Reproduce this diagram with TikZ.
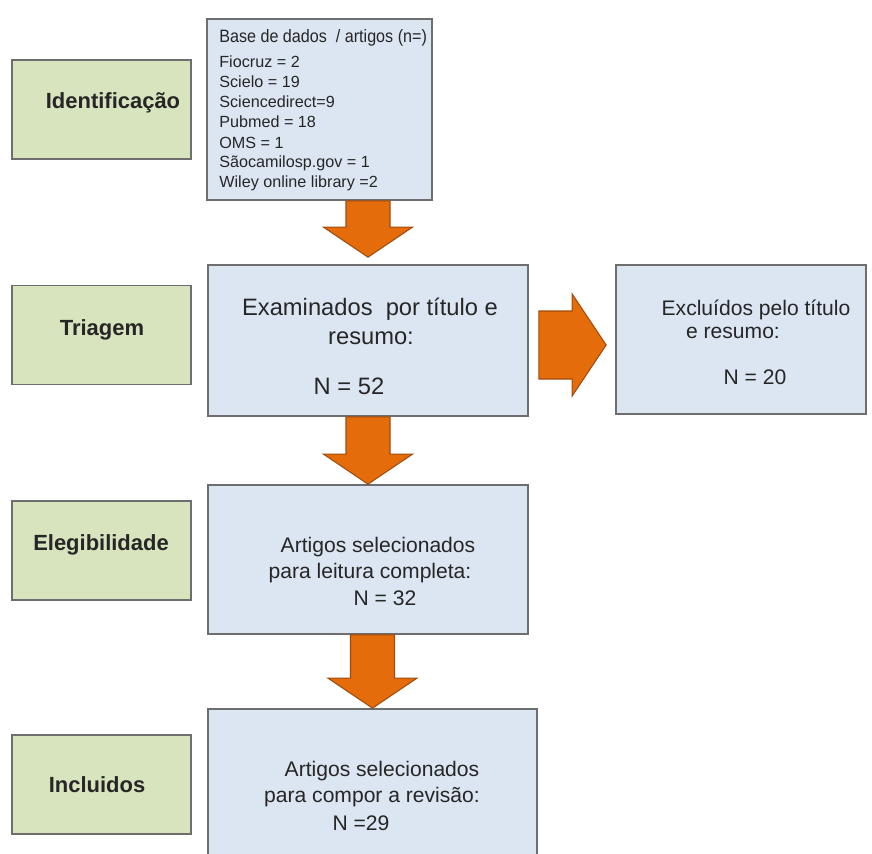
\documentclass[tikz,border=0pt]{standalone}
\usepackage{fontspec}
\setmainfont{Liberation Sans}
\newfontfamily\narrowfont[FakeStretch=0.9]{Liberation Sans}
\usetikzlibrary{calc}

\definecolor{stagegreen}{RGB}{215,228,189}
\definecolor{boxblue}{RGB}{220,230,242}
\definecolor{arroworange}{RGB}{228,108,10}
\definecolor{arrowedge}{RGB}{160,76,12}
\definecolor{boxedge}{RGB}{110,110,110}
\definecolor{txtgray}{RGB}{38,38,38}

% block arrow pointing down: #1 = where the shaft starts, #2 = tip
\newcommand{\blockdown}[2]{%
\draw[blockarrow] let \p1=#1, \p2=#2 in
  (\x2-0.44cm,\y1) -- (\x2+0.44cm,\y1) -- (\x2+0.44cm,\y2+0.6cm) -- (\x2+0.89cm,\y2+0.6cm)
  -- (\x2,\y2) -- (\x2-0.89cm,\y2+0.6cm) -- (\x2-0.44cm,\y2+0.6cm) -- cycle;
}
% block arrow pointing right
\newcommand{\blockright}[2]{%
\draw[blockarrow] let \p1=#1, \p2=#2 in
  (\x1,\y2+0.68cm) -- (\x2-0.68cm,\y2+0.68cm) -- (\x2-0.68cm,\y2+1.02cm) -- (\x2,\y2)
  -- (\x2-0.68cm,\y2-1.02cm) -- (\x2-0.68cm,\y2-0.68cm) -- (\x1,\y2-0.68cm) -- cycle;
}

\begin{document}
\begin{tikzpicture}[x=0.02cm,y=-0.02cm]
\tikzset{stage/.style = {draw=boxedge, line width=1pt, fill=stagegreen, minimum width=3.58cm, minimum height=1.98cm}}
\tikzset{stagelbl/.style = {font=\fontsize{12.5}{15}\selectfont\bfseries, text=black!85, inner sep=0pt}}
\tikzset{infobox/.style = {draw=boxedge, line width=1pt, fill=boxblue}}
\tikzset{infotxt/.style = {text=txtgray, inner sep=0pt, font=\fontsize{12}{14}\selectfont}}
\tikzset{srcline/.style = {text=txtgray, inner sep=0pt, anchor=west, font=\fontsize{9.2}{11}\selectfont}}
\tikzset{blockarrow/.style = {fill=arroworange, draw=arrowedge, line width=0.6pt, line join=miter}}

\useasboundingbox (0,0) rectangle (872,853);

% stages on the left
\foreach \pos/\name in {{(101.5,109.5)/ident}, {(101.5,335)/triag}, {(101.5,550.5)/eleg}, {(101.5,784.5)/incl}}
\node[stage] (\name) at \pos {};

\node[stagelbl] (identlbl) at (113,103) {Identificação};
\node[stagelbl] (triaglbl) at (102,330) {Triagem};
\node[stagelbl] (eleglbl) at (101,545) {Elegibilidade};
\node[stagelbl] (incllbl) at (97,785) {Incluidos};

% boxes
\node[infobox, minimum width=4.5cm, minimum height=3.62cm] (base) at (319.5,109.5) {};
\node[infobox, minimum width=6.4cm, minimum height=3.02cm] (exam) at (368,340.5) {};
\node[infobox, minimum width=5cm, minimum height=2.98cm] (excl) at (741,339.5) {};
\node[infobox, minimum width=6.4cm, minimum height=2.98cm] (sel) at (368,559.5) {};
\node[infobox, minimum width=6.58cm, minimum height=3.02cm] (rev) at (372.5,784.5) {};

% sources
\node[srcline, font=\narrowfont\fontsize{10.2}{12}\selectfont] (basehead) at (219,38) {Base de dados \ / artigos (n=)};
\foreach \ypos/\src [count=\i] in {62/Fiocruz = 2, 82/Scielo = 19, 102/Sciencedirect=9, 122/Pubmed = 18, 143/OMS = 1, 163/Sãocamilosp.gov = 1, 183/Wiley online library =2}
\node[srcline] (src\i) at (219,\ypos) {\src};

% screening
\node[infotxt, font=\fontsize{13.5}{16}\selectfont] (exam1) at (370,309) {Examinados\ \ por título e};
\node[infotxt, font=\fontsize{13.5}{16}\selectfont] (exam2) at (371,338) {resumo:};
\node[infotxt, font=\fontsize{13.5}{16}\selectfont] (examn) at (349,386) {N = 52};

\node[infotxt] (excl1) at (756,310) {Excluídos pelo título};
\node[infotxt] (excl2) at (733,333) {e resumo:};
\node[infotxt] (excln) at (755,377) {N = 20};

% eligibility
\node[infotxt] (sel1) at (378,547) {Artigos selecionados};
\node[infotxt] (sel2) at (370,573) {para leitura completa:};
\node[infotxt] (seln) at (385,598) {N = 32};

% included
\node[infotxt] (rev1) at (382,771) {Artigos selecionados};
\node[infotxt] (rev2) at (372,797) {para compor a revisão:};
\node[infotxt] (revn) at (361,823) {N =29};

% arrows
\blockdown{(base.south)}{([yshift=0.14cm]exam.north)}
\blockdown{(exam.south)}{(sel.north)}
\blockdown{(sel.south)}{(rev.north)}
\blockright{([xshift=0.2cm]exam.east)}{([shift={(-0.18cm,-0.11cm)}]excl.west)}

\end{tikzpicture}
\end{document}
